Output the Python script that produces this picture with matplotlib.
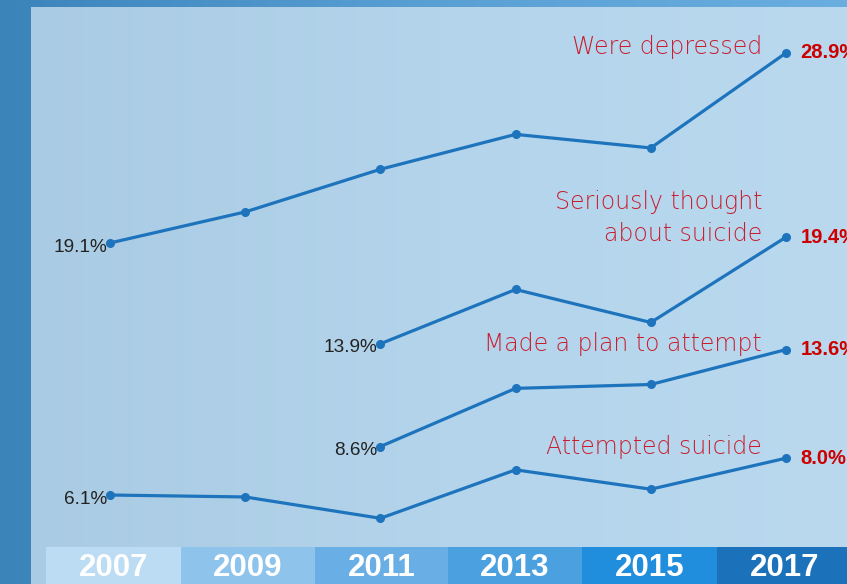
import numpy as np
import matplotlib
matplotlib.use("Agg")
import matplotlib.pyplot as plt
from matplotlib.colors import LinearSegmentedColormap

# ---- data ----
years = [2007, 2009, 2011, 2013, 2015, 2017]
depressed = [19.1, 20.7, 22.9, 24.7, 24.0, 28.9]
thought_years = [2011, 2013, 2015, 2017]
thought = [13.9, 16.7, 15.0, 19.4]
plan_years = [2011, 2013, 2015, 2017]
plan = [8.6, 11.6, 11.8, 13.6]
attempted = [6.1, 6.0, 4.9, 7.4, 6.4, 8.0]

series_names = ["Were depressed", "Seriously thought\nabout suicide",
                "Made a plan to attempt", "Attempted suicide"]
year_labels = ["2007", "2009", "2011", "2013", "2015", "2017"]
box_colors = ["#bcdcf3", "#8ec4ec", "#6aaee6", "#4ba1e0", "#208ddd", "#1b72bb"]

W, H = 847, 584
fig = plt.figure(figsize=(W / 100, H / 100), dpi=100)

# ---- background (pixel coords) ----
bg = fig.add_axes([0, 0, 1, 1])
bg.axis("off")
outer = LinearSegmentedColormap.from_list("o", ["#3b84ba", "#5a9fd4", "#6aaee0"])
grad = np.linspace(0, 1, 256)[None, :]
bg.imshow(grad, cmap=outer, extent=[0, W, H, 0], aspect="auto", zorder=0)
panel = LinearSegmentedColormap.from_list("p", ["#a9cbe3", "#b3d4eb", "#bad9ef"])
bg.imshow(grad, cmap=panel, extent=[31, W, H, 7], aspect="auto", zorder=1)
bg.set_xlim(0, W)
bg.set_ylim(H, 0)

# year boxes
edges = [46, 181, 315, 448, 582, 717, 852]
for i, lab in enumerate(year_labels):
    bg.add_patch(plt.Rectangle((edges[i], 547), edges[i + 1] - edges[i], 40,
                               color=box_colors[i], zorder=2, lw=0))
    bg.text((edges[i] + edges[i + 1]) / 2, 568, lab, ha="center", va="center",
            color="white", fontsize=22.5, fontweight="bold",
            family="Liberation Sans", zorder=3)

# ---- data axes ----
ax = fig.add_axes([0, 0, 1, 1])
ax.patch.set_alpha(0)
ax.axis("off")
px_per_year = (786 - 110) / 10
ax.set_xlim(2007 - 110 / px_per_year, 2007 + (W - 110) / px_per_year)
k = 19.39
a0 = 613.3
ax.set_ylim((a0 - H) / k, a0 / k)

line_c = "#1d74bd"
for xs, ys in [(years, depressed), (thought_years, thought),
               (plan_years, plan), (years, attempted)]:
    ax.plot(xs, ys, color=line_c, lw=2.3, marker="o", ms=5.5, zorder=5,
            solid_capstyle="round")
    # first value label
    ax.annotate(f"{ys[0]:.1f}%", (xs[0], ys[0]), xytext=(-2, -3),
                textcoords="offset points", ha="right", va="center",
                fontsize=13.7, color="#222222", family="Liberation Sans")
    # last value label
    ax.annotate(f"{ys[-1]:.1f}%", (xs[-1], ys[-1]), xytext=(10.5, 0),
                textcoords="offset points", ha="left", va="center",
                fontsize=14.5, color="#cc0000", fontweight="bold",
                family="Liberation Sans", annotation_clip=False)

# series labels (pixel coords)
red = "#c81e30"
lab_pos = [(762, 47), (762, 218), (762, 344), (762, 447)]
for name, (x, y) in zip(series_names, lab_pos):
    bg.text(x, y, name, ha="right", va="center", fontsize=17, color=red,
            family="DejaVu Sans", fontweight="light", linespacing=1.45,
            zorder=6)

fig.savefig("out.png", dpi=100)
